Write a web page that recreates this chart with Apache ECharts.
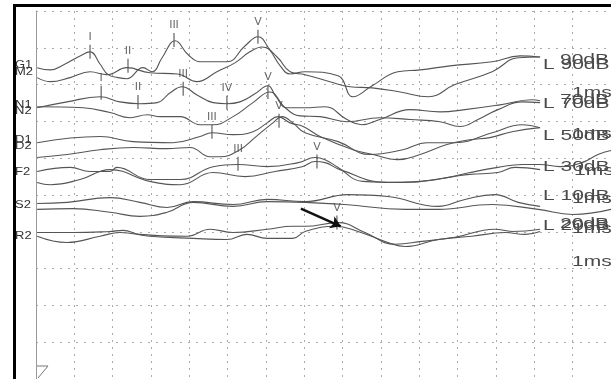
<!DOCTYPE html>
<html><head><meta charset="utf-8">
<script src="https://cdn.jsdelivr.net/npm/echarts@6/dist/echarts.min.js"></script>
<style>html,body{margin:0;padding:0;background:#fff}#c{width:611px;height:379px}</style>
</head><body><div id="c"></div>
<script>
// time in ms, amplitude in grid divisions
const trace90a = [[0.03,8.46],[0.37,8.40],[0.76,8.56],[1.15,8.78],[1.41,8.89],[1.67,8.56],[1.88,8.27],[2.14,8.19],[2.37,8.16],[2.79,8.46],[3.03,8.35],[3.29,8.73],[3.63,9.19],[3.97,8.81],[4.28,8.62],[4.98,8.62],[5.45,9.05],[5.79,9.30],[6.10,8.94],[6.37,8.51],[6.63,8.29],[7.02,8.35],[7.88,8.24],[8.27,7.67],[8.77,7.97],[9.44,8.35],[10.02,8.40],[10.80,8.51],[11.90,8.62],[12.63,8.78],[13.15,8.75]];
const trace90b = [[0.03,8.19],[0.37,8.08],[0.89,8.19],[1.41,8.35],[1.85,8.27],[2.37,8.46],[2.97,8.32],[3.70,8.29],[4.20,8.08],[4.72,8.35],[5.19,8.59],[5.58,8.89],[5.90,9.02],[6.29,8.75],[6.63,8.35],[7.02,8.27],[7.67,8.08],[8.19,7.94],[8.77,7.91],[9.50,7.80],[10.23,7.67],[10.93,8.00],[11.90,8.35],[12.58,8.73],[13.15,8.75]];
const trace70a = [[0.03,7.37],[0.81,7.53],[1.67,7.67],[2.19,7.53],[2.71,7.48],[3.16,7.51],[3.50,7.78],[3.81,7.94],[4.20,7.72],[4.62,7.51],[4.98,7.48],[5.32,7.53],[5.71,7.75],[6.05,7.97],[6.26,7.67],[6.55,7.37],[7.02,7.37],[7.54,7.40],[8.11,7.05],[8.50,6.91],[8.97,7.05],[9.76,7.32],[10.54,7.26],[11.19,7.32],[12.11,7.45],[12.94,7.59],[13.15,7.56]];
const trace70b = [[0.03,7.40],[1.23,7.37],[1.93,7.24],[2.45,7.10],[2.90,7.18],[3.24,7.13],[3.76,7.13],[4.28,6.91],[4.62,6.91],[5.14,7.13],[5.66,7.51],[6.10,7.80],[6.50,7.37],[6.89,7.15],[7.41,7.13],[8.11,6.99],[8.97,7.10],[9.76,7.05],[10.54,6.99],[11.06,6.86],[11.53,7.05],[12.05,7.32],[12.68,7.53],[13.15,7.51]];
const trace50a = [[0.03,6.42],[1.67,6.59],[2.53,6.45],[3.57,6.42],[4.28,6.59],[4.59,6.69],[5.14,6.64],[5.66,6.72],[6.03,6.96],[6.31,7.13],[6.63,6.96],[6.97,6.86],[7.41,6.59],[8.27,6.23],[8.79,6.10],[9.42,5.96],[10.02,6.10],[10.72,6.37],[11.32,6.50],[11.84,6.56],[12.42,6.72],[13.15,6.83]];
const trace50b = [[0.03,6.02],[0.81,6.10],[1.67,6.23],[2.53,6.29],[3.42,6.26],[4.02,6.29],[4.54,6.04],[4.80,6.04],[5.32,6.23],[5.71,6.56],[6.18,6.96],[6.42,7.13],[6.70,6.96],[7.02,6.69],[7.88,6.45],[8.71,6.10],[9.57,6.23],[10.20,6.42],[10.93,6.42],[11.90,6.69],[12.68,6.91],[13.15,6.83]];
const trace30a = [[0.03,5.64],[0.89,5.75],[1.41,5.64],[1.93,5.64],[2.11,5.75],[2.97,5.42],[3.76,5.42],[4.62,5.77],[5.27,5.83],[6.03,5.77],[6.84,5.88],[7.28,6.02],[7.54,5.96],[7.85,5.77],[8.53,5.37],[9.57,5.34],[10.46,5.42],[11.32,5.61],[12.05,5.75],[12.68,5.83],[13.15,5.83],[13.67,5.77],[14.24,5.88],[14.66,6.10],[15.0,6.21]];
const trace30b = [[0.03,5.34],[0.37,5.28],[1.15,5.42],[1.93,5.69],[2.97,5.37],[3.76,5.28],[4.62,5.61],[5.45,5.50],[6.24,5.64],[6.94,5.77],[7.28,5.91],[7.54,5.88],[7.93,5.69],[9.16,5.34],[10.02,5.37],[10.88,5.50],[11.32,5.56],[12.05,5.61],[12.50,5.75],[13.15,5.69]];
const trace10a = [[0.03,4.77],[0.81,4.80],[1.93,4.93],[2.71,4.80],[3.42,4.66],[4.10,4.82],[5.14,4.74],[6.03,4.88],[7.02,4.82],[8.14,5.01],[9.18,4.96],[10.49,4.69],[11.19,4.88],[11.97,5.01],[12.58,4.80],[13.15,4.69]];
const trace10b = [[0.03,4.61],[0.97,4.63],[1.93,4.53],[2.71,4.42],[3.42,4.53],[4.10,4.80],[5.14,4.69],[6.03,4.82],[7.02,4.80],[8.06,4.74],[9.63,4.61],[10.49,4.61],[11.90,4.74],[13.10,4.61],[14.0,4.47],[15.0,4.61]];
const trace20a = [[0.03,3.98],[0.97,3.98],[1.93,4.01],[2.27,4.04],[2.71,3.93],[3.94,3.88],[4.54,4.07],[5.14,3.98],[6.03,4.07],[6.70,4.15],[7.02,4.15],[7.88,4.25],[8.58,3.98],[9.37,3.66],[10.07,3.74],[10.93,3.85],[11.97,4.07],[12.42,4.01],[13.15,4.07]];
const trace20b = [[0.03,3.88],[0.81,3.71],[1.67,3.88],[2.19,3.98],[2.97,3.88],[4.10,3.82],[4.98,3.79],[5.50,3.93],[6.03,3.82],[6.70,3.82],[7.02,4.01],[7.80,4.15],[8.40,4.01],[9.18,3.71],[9.63,3.60],[10.49,3.79],[11.37,3.88],[12.24,3.98],[12.76,3.93],[13.15,4.01]];

const peakNames = ['I','II','III','V','I','II','III','IV','V','III','V','III','V','V'];
const peakTimes = [1.41,2.40,3.60,5.79,1.70,2.66,3.84,4.98,6.05,4.59,6.34,5.27,7.33,7.85];
const peakAmps  = [8.89,8.51,9.21,9.30,7.78,7.53,7.89,7.51,7.80,6.72,7.02,5.85,5.91,4.25];

const arrowFrom = [6.91, 4.63];
const arrowTo   = [7.95, 4.15];

const levelLabels = ['L 90dB','L 70dB','L 50dB','L 30dB','L 10dB','L 20dB'];
const channelLabels = ['G1','M2','N1','N2','D1','D2','F2','S2','R2'];

const traces = [trace90a,trace90b,trace70a,trace70b,trace50a,trace50b,trace30a,trace30b,trace10a,trace10b,trace20a,trace20b];

const chart = echarts.init(document.getElementById('c'), null, {renderer:'canvas'});
const txtCol = '#4a4a4a';
function rtext(t, x, cy, sx){
  return {type:'text', x:x, y:cy, scaleX:sx||1.5, z:20,
    style:{text:t, font:'14px "Liberation Sans", Arial, sans-serif', fill:txtCol, verticalAlign:'middle', textAlign:'left'}};
}
function ltext(t, cy){
  return {type:'text', x:15, y:cy, scaleX:1.3, z:20,
    style:{text:t, font:'10px "Liberation Sans", Arial, sans-serif', fill:'#333', verticalAlign:'middle'}};
}
const graphics = [
  {type:'line', shape:{x1:13, y1:5.5, x2:611, y2:5.5}, style:{stroke:'#000', lineWidth:3}, z:30},
  {type:'line', shape:{x1:14.5, y1:4, x2:14.5, y2:379}, style:{stroke:'#000', lineWidth:3}, z:30},
  {type:'polyline', shape:{points:[[37,366],[48,366],[38,378]]}, style:{stroke:'#777', lineWidth:1, fill:null}, z:20},
  rtext(levelLabels[0], 543, 65), rtext('90dB', 560, 60),
  rtext('1ms', 572, 93), rtext(levelLabels[1], 543, 104), rtext('70dB', 560, 100),
  rtext(levelLabels[2], 543, 136), rtext('1ms', 572, 134),
  rtext(levelLabels[3], 543, 167), rtext('1ms', 574, 171),
  rtext(levelLabels[4], 543, 196), rtext('1ms', 572, 199),
  rtext(levelLabels[5], 543, 226), rtext('20dB', 560, 224), rtext('1ms', 572, 229),
  rtext('1ms', 572, 262),
  ltext(channelLabels[0], 65), ltext(channelLabels[1], 72),
  ltext(channelLabels[2], 105), ltext(channelLabels[3], 111),
  ltext(channelLabels[4], 140), ltext(channelLabels[5], 146),
  ltext(channelLabels[6], 172), ltext(channelLabels[7], 205), ltext(channelLabels[8], 236)
];

const series = traces.map(function(d){
  return {type:'line', data:d, smooth:0.45, showSymbol:false, silent:true,
    lineStyle:{color:'#555', width:1.1}, z:5, clip:false};
});
series.push({
  type:'scatter', z:10, silent:true,
  data: peakNames.map(function(n,i){return {name:n, value:[peakTimes[i], peakAmps[i]]};}),
  symbol:'rect', symbolSize:[1.4,14],
  itemStyle:{color:'#555'},
  label:{show:true, position:'top', distance:2, formatter:'{b}', fontSize:11,
    fontFamily:'"DejaVu Sans", sans-serif', color:'#444'}
});
series.push({
  type:'lines', coordinateSystem:'cartesian2d', z:12, silent:true,
  data:[{coords:[arrowFrom, arrowTo]}],
  symbol:['none','arrow'], symbolSize:10,
  lineStyle:{color:'#111', width:2.5, opacity:1}
});

chart.setOption({
  animation:false,
  backgroundColor:'#fff',
  grid:{left:36, top:11, width:575, height:369, containLabel:false},
  xAxis:{type:'value', min:0, max:15, interval:1,
    axisLine:{show:false}, axisTick:{show:false}, axisLabel:{show:false},
    splitLine:{show:true, lineStyle:{color:'#aaa', type:[2,5], width:1}}},
  yAxis:{type:'value', min:0, max:10, interval:1,
    axisLine:{show:true, lineStyle:{color:'#999', width:1}}, axisTick:{show:false}, axisLabel:{show:false},
    splitLine:{show:true, lineStyle:{color:'#aaa', type:[2,6], width:1}}},
  series:series,
  graphic:graphics
});
</script></body></html>
